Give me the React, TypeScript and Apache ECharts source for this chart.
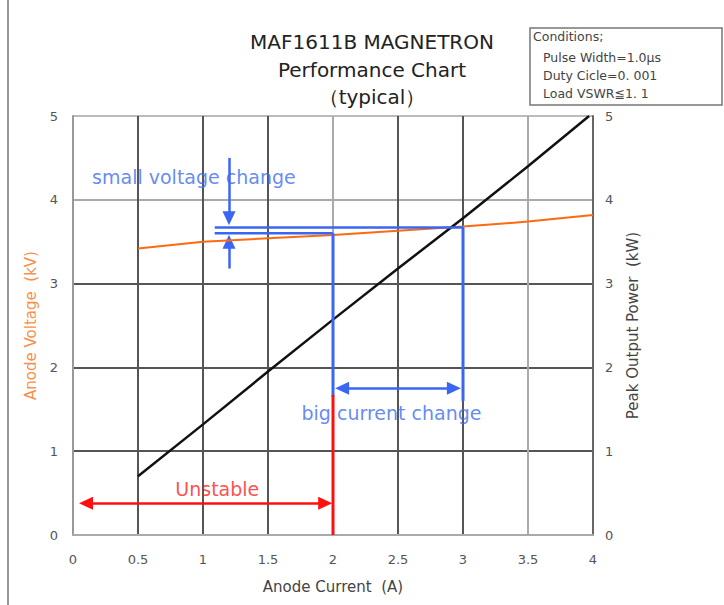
import React, { useEffect, useRef } from "react";
import * as echarts from "echarts";

const titleLines = ["MAF1611B MAGNETRON", "Performance Chart", "（typical）"];
const conditionLines = ["Conditions;", "Pulse Width=1.0μs", "Duty Cicle=0. 001", "Load VSWR≦1. 1"];

const voltageCurrent = [0.5, 1, 1.5, 2, 2.5, 3, 3.5, 4];
const anodeVoltage = [3.42, 3.5, 3.54, 3.58, 3.63, 3.68, 3.74, 3.82];
const powerCurrent = [0.5, 1, 1.5, 2, 2.5, 3, 3.5, 3.97];
const peakPower = [0.7, 1.32, 1.95, 2.57, 3.18, 3.78, 4.4, 5];

const upperVoltageLine = [[1.09, 3.67], [3, 3.67]];
const lowerVoltageLine = [[1.09, 3.6], [2, 3.6]];
const blueLeftDrop = [[2, 3.6], [2, 1.65]];
const blueRightDrop = [[3, 3.67], [3, 1.6]];
const redDrop = [[2, 1.67], [2, 0]];
const bigCurrentArrow = [[2.07, 1.75], [2.93, 1.75]];
const unstableArrow = [[0.1, 0.38], [1.94, 0.38]];
const downArrow = [[1.2, 4.5], [1.2, 3.78]];
const upArrow = [[1.2, 3.18], [1.2, 3.5]];

const noteTexts = ["small voltage change", "big current change", "Unstable"];
const noteX = [0.93, 2.45, 1.11];
const noteY = [4.27, 1.45, 0.55];
const noteColors = ["#3d6cf0", "#3d6cf0", "#ff2020"];

const BLUE = "#3a66f2";
const RED = "#ff1010";
const FONT = "DejaVu Sans, Verdana, sans-serif";

export default function App() {
  const ref = useRef<HTMLDivElement>(null);
  useEffect(() => {
    if (!ref.current) return;
    const chart = echarts.init(ref.current, undefined, { renderer: "svg" });
    const lineSeries = (data: number[][], color: string, width: number, yAxisIndex = 0) => ({
      type: "line",
      data,
      yAxisIndex,
      symbol: "none",
      silent: true,
      lineStyle: { color, width },
      z: 5,
    });
    const arrowSeries = (pts: number[][], color: string, symbols: string[]) => ({
      type: "line",
      data: [],
      silent: true,
      markLine: {
        silent: true,
        symbol: symbols,
        symbolSize: [13, 14],
        label: { show: false },
        lineStyle: { color, width: 2.5, type: "solid" },
        data: [[{ coord: pts[0] }, { coord: pts[1] }]],
      },
    });
    chart.setOption({
      animation: false,
      textStyle: { fontFamily: FONT },
      grid: { left: 73, right: 131, top: 116, bottom: 70 },
      xAxis: {
        type: "value",
        min: 0,
        max: 4,
        interval: 0.5,
        name: "Anode Current  (A)",
        nameLocation: "middle",
        nameGap: 44,
        nameTextStyle: { color: "#444", fontSize: 15, fontFamily: FONT },
        axisLine: { show: true, lineStyle: { color: "#aaa", width: 2 } },
        axisTick: { show: false },
        axisLabel: { color: "#555", fontSize: 13, margin: 18, fontFamily: FONT },
        splitLine: {
          show: true,
          lineStyle: {
            color: ["#aaa", "#555", "#555", "#555", "#aaa", "#555", "#555", "#aaa", "#666"],
            width: 2,
          },
        },
      },
      yAxis: [
        {
          type: "value",
          min: 0,
          max: 5,
          interval: 1,
          name: "Anode Voltage  (kV)",
          nameLocation: "middle",
          nameGap: 32,
          nameTextStyle: { color: "#f7904a", fontSize: 15, fontFamily: FONT },
          axisLine: { show: true, lineStyle: { color: "#999", width: 2 } },
          axisTick: { show: false },
          axisLabel: { color: "#555", fontSize: 13, margin: 15, fontFamily: FONT },
          splitLine: {
            show: true,
            lineStyle: { color: ["#aaa", "#555", "#555", "#555", "#aaa", "#bbb"], width: 2 },
          },
        },
        {
          type: "value",
          min: 0,
          max: 5,
          interval: 1,
          position: "right",
          name: "Peak Output Power  (kW)",
          nameLocation: "middle",
          nameGap: 32,
          nameRotate: 90,
          nameTextStyle: { color: "#444", fontSize: 15, fontFamily: FONT },
          axisLine: { show: true, lineStyle: { color: "#666", width: 2 } },
          axisTick: { show: false },
          axisLabel: { color: "#555", fontSize: 13, margin: 12, fontFamily: FONT },
          splitLine: { show: false },
        },
      ],
      series: [
        lineSeries(voltageCurrent.map((x, i) => [x, anodeVoltage[i]]), "#ff6a10", 2),
        lineSeries(powerCurrent.map((x, i) => [x, peakPower[i]]), "#111", 2.5, 1),
        lineSeries(upperVoltageLine, BLUE, 2.5),
        lineSeries(lowerVoltageLine, BLUE, 2.5),
        lineSeries(blueLeftDrop, BLUE, 3),
        lineSeries(blueRightDrop, BLUE, 3),
        lineSeries(redDrop, RED, 3),
        arrowSeries(bigCurrentArrow, BLUE, ["triangle", "triangle"]),
        arrowSeries(unstableArrow, RED, ["triangle", "triangle"]),
        arrowSeries(downArrow, BLUE, ["none", "triangle"]),
        arrowSeries(upArrow, BLUE, ["none", "triangle"]),
        {
          type: "scatter",
          symbolSize: 0,
          silent: true,
          z: 10,
          data: noteTexts.map((t, i) => ({
            value: [noteX[i], noteY[i]],
            label: {
              show: true,
              position: "inside",
              formatter: t,
              color: noteColors[i],
              fontSize: 19,
              fontFamily: FONT,
            },
          })),
        },
      ],
      graphic: [
        {
          type: "line",
          shape: { x1: 8, y1: 0, x2: 8, y2: 605 },
          style: { stroke: "#999", lineWidth: 2 },
        },
        ...titleLines.map((t, i) => ({
          type: "text",
          x: 372,
          y: [42, 70, 97][i],
          style: {
            text: t,
            fill: "#222",
            fontSize: 20,
            fontFamily: FONT,
            textAlign: "center",
            textVerticalAlign: "middle",
          },
        })),
        {
          type: "rect",
          shape: { x: 530, y: 28, width: 192, height: 77 },
          style: { fill: "#fff", stroke: "#777", lineWidth: 1.5 },
        },
        ...conditionLines.map((t, i) => ({
          type: "text",
          x: i === 0 ? 533 : 543,
          y: [36, 57, 75, 93][i],
          style: {
            text: t,
            fill: "#444",
            fontSize: 12.5,
            fontFamily: FONT,
            textAlign: "left",
            textVerticalAlign: "middle",
          },
        })),
      ],
    });
    return () => chart.dispose();
  }, []);
  return <div ref={ref} style={{ width: 724, height: 605, position: "absolute", left: 0, top: 0 }} />;
}
